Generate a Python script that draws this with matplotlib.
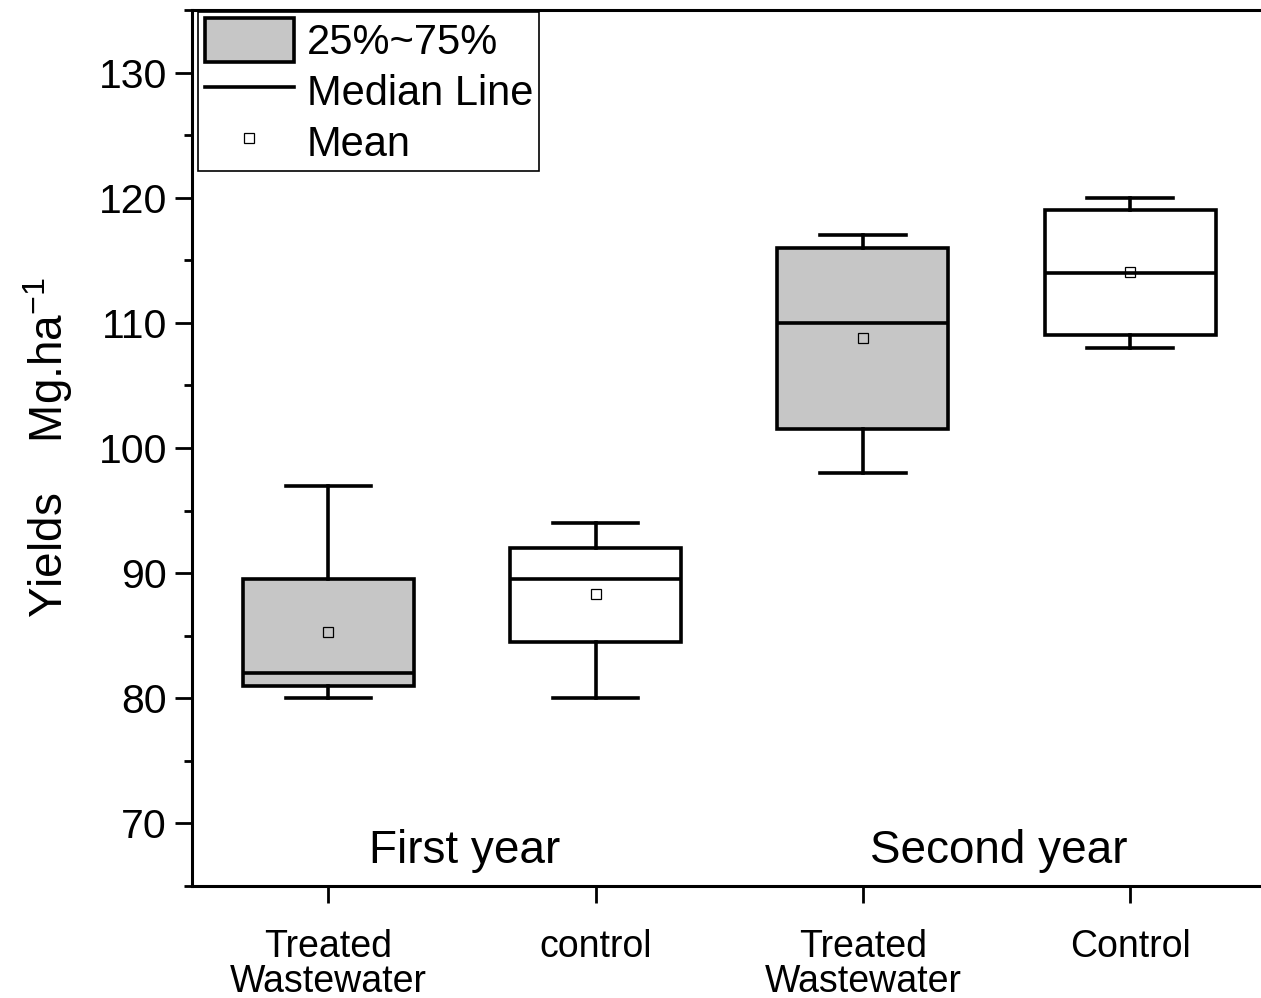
import matplotlib
matplotlib.use("Agg")
import matplotlib.pyplot as plt
from matplotlib.patches import Patch
from matplotlib.lines import Line2D
from matplotlib.ticker import MultipleLocator

plt.rcParams['font.family'] = ['Liberation Sans', 'DejaVu Sans']
plt.rcParams['mathtext.fontset'] = 'custom'
plt.rcParams['mathtext.rm'] = 'Liberation Sans'

# Box statistics (Mg.ha-1)
categories = ["Treated\nWastewater", "control", "Treated\nWastewater", "Control"]
whisker_low = [80, 80, 98, 108]
q1 = [81, 84.5, 101.5, 109]
medians = [82, 89.5, 110, 114]
q3 = [89.5, 92, 116, 119]
whisker_high = [97, 94, 117, 120]
means = [85.3, 88.3, 108.8, 114.05]
filled = [True, False, True, False]
year_labels = ["First year", "Second year"]

GRAY = "#c6c6c6"

fig = plt.figure(figsize=(12.61, 9.98), dpi=100)
ax = fig.add_axes([192 / 1261, 1 - 886 / 998, 1 - 192 / 1261, (886 - 10) / 998])

positions = list(range(1, len(categories) + 1))
stats = []
for i in range(len(categories)):
    stats.append(dict(whislo=whisker_low[i], q1=q1[i], med=medians[i],
                      q3=q3[i], whishi=whisker_high[i], mean=means[i], fliers=[]))

lw = 2.6
bp = ax.bxp(stats, positions=positions, widths=0.64, patch_artist=True,
            showmeans=True, showfliers=False, manage_ticks=False,
            boxprops=dict(linewidth=lw, edgecolor='black'),
            medianprops=dict(color='black', linewidth=lw),
            whiskerprops=dict(color='black', linewidth=lw),
            capprops=dict(color='black', linewidth=lw),
            capwidths=0.32,
            meanprops=dict(marker='s', markersize=7, markerfacecolor='none',
                           markeredgecolor='black', markeredgewidth=0.9))
for box, f in zip(bp['boxes'], filled):
    box.set_facecolor(GRAY if f else 'white')
    box.set_joinstyle('miter')

ax.set_xlim(0.49, 4.49)
ax.set_ylim(65, 135)
ax.set_xticks(positions)
ax.set_xticklabels(categories, fontsize=27, linespacing=0.98)
ax.yaxis.set_major_locator(MultipleLocator(10))
ax.yaxis.set_minor_locator(MultipleLocator(5))
ax.set_yticks(range(70, 131, 10))
ax.tick_params(axis='y', which='major', labelsize=29.5, length=12, width=2, direction='out', pad=6)
ax.tick_params(axis='y', which='minor', length=6, width=2, direction='out')
ax.tick_params(axis='x', which='major', length=12, width=2, direction='out', pad=19)

for side in ['left', 'bottom', 'top']:
    ax.spines[side].set_linewidth(2.2)
ax.spines['right'].set_visible(False)

ax.set_ylabel("Yields    Mg.ha$^{\\mathrm{-1}}$", fontsize=33, labelpad=17)

ax.text(1.51, 67.8, year_labels[0], fontsize=33, ha='center', va='center')
ax.text(3.51, 67.8, year_labels[1], fontsize=33, ha='center', va='center')

handles = [
    Patch(facecolor=GRAY, edgecolor='black', linewidth=2.6),
    Line2D([], [], color='black', linewidth=2.6),
    Line2D([], [], linestyle='none', marker='s', markersize=7,
           markerfacecolor='none', markeredgecolor='black', markeredgewidth=0.9),
]
leg = ax.legend(handles, ["25%~75%", "Median Line", "Mean"], fontsize=30,
                loc='upper left', bbox_to_anchor=(0.006, 0.998), frameon=True,
                fancybox=False, edgecolor='black', framealpha=1,
                handlelength=2.15, handleheight=1.25, handletextpad=0.3,
                labelspacing=0.14, borderpad=0.15, borderaxespad=0.0)
leg.get_frame().set_linewidth(1.2)

fig.savefig("out.png", dpi=100)
